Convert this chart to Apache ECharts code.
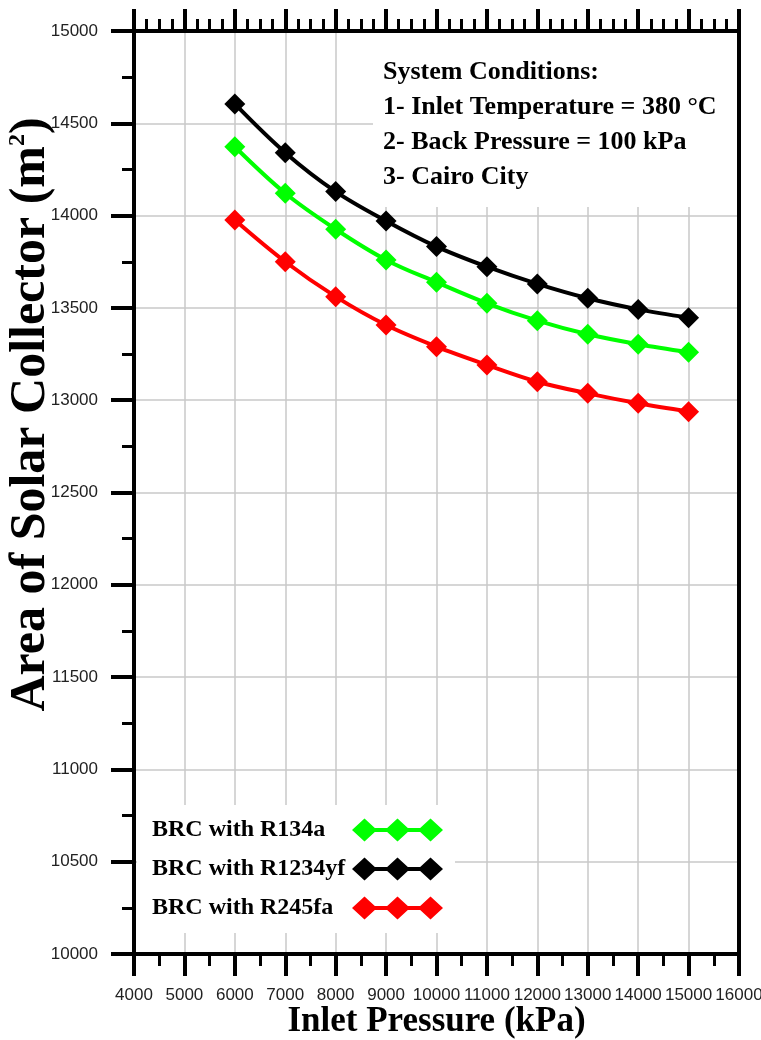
<!DOCTYPE html>
<html><head><meta charset="utf-8">
<script src="https://cdn.jsdelivr.net/npm/echarts@6/dist/echarts.min.js"></script>
<style>html,body{margin:0;padding:0;background:#fff}#c{width:761px;height:1040px}</style>
</head><body><div id="c"></div>
<script>
const pressures = [6000, 7000, 8000, 9000, 10000, 11000, 12000, 13000, 14000, 15000];
const r134a   = [14373, 14121, 13926, 13760, 13639, 13525, 13431, 13357, 13303, 13260];
const r1234yf = [14605, 14341, 14130, 13971, 13832, 13723, 13630, 13552, 13492, 13447];
const r245fa  = [13976, 13750, 13561, 13407, 13290, 13191, 13100, 13037, 12983, 12938];
const seriesNames = ['BRC with R134a', 'BRC with R1234yf', 'BRC with R245fa'];
const seriesValues = [r134a, r1234yf, r245fa];
const seriesColors = ['#00ff00', '#000000', '#ff0000'];
const conditionLines = ['System Conditions:', '1- Inlet Temperature = 380 °C', '2- Back Pressure = 100 kPa', '3- Cairo City'];
const xTitle = 'Inlet Pressure (kPa)';
const yTitle = 'Area of Solar Collector (m{sup|2})';

const serif = '"Liberation Serif", "Times New Roman", serif';
const sans = '"Liberation Sans", Arial, sans-serif';
const legendIcon = 'path://M0 11.5L12.5 0L25 11.5L12.5 23Z M33 11.5L45.5 0L58 11.5L45.5 23Z M66 11.5L78.5 0L91 11.5L78.5 23Z M12 9.5H79V13.5H12Z';
const plain = v => String(v);

const chart = echarts.init(document.getElementById('c'), null, {renderer: 'canvas'});
const axisBase = {
  type: 'value',
  axisLine: {show: true, onZero: false, lineStyle: {color: '#000', width: 4}},
  axisTick: {show: true, length: 22, lineStyle: {color: '#000', width: 4}},
  minorTick: {show: true, splitNumber: 2, length: 12, lineStyle: {color: '#000', width: 3}},
  splitLine: {show: true, lineStyle: {color: '#c8c8c8', width: 1.5}},
  minorSplitLine: {show: false}
};
chart.setOption({
  animation: false,
  backgroundColor: '#fff',
  grid: {left: 134, right: 22, top: 31, bottom: 86, containLabel: false, outerBoundsMode: 'none'},
  xAxis: [
    Object.assign({}, axisBase, {
      position: 'bottom', min: 4000, max: 16000, interval: 1000,
      axisLabel: {margin: 33, fontSize: 17, fontFamily: sans, color: '#222', hideOverlap: false, formatter: plain},
      name: xTitle, nameLocation: 'middle', nameGap: 50, nameMoveOverlap: false,
      nameTextStyle: {fontFamily: serif, fontWeight: 'bold', fontSize: 35, color: '#000'}
    }),
    Object.assign({}, axisBase, {
      position: 'top', min: 4000, max: 16000, interval: 1000,
      minorTick: {show: true, splitNumber: 4, length: 12, lineStyle: {color: '#000', width: 3}},
      axisLabel: {show: false}, splitLine: {show: false}
    })
  ],
  yAxis: [
    Object.assign({}, axisBase, {
      position: 'left', min: 10000, max: 15000, interval: 500,
      axisTick: {show: true, length: 23, lineStyle: {color: '#000', width: 4}},
      axisLabel: {margin: 36, fontSize: 17, fontFamily: sans, color: '#222', formatter: plain},
      name: yTitle, nameLocation: 'middle', nameGap: 78, nameMoveOverlap: false,
      nameTextStyle: {fontFamily: serif, fontWeight: 'bold', fontSize: 50, color: '#000',
        padding: [0, 0, 0, 156],
        rich: {sup: {fontFamily: serif, fontWeight: 'bold', fontSize: 24, color: '#000', verticalAlign: 'top'}}}
    }),
    {
      type: 'value', position: 'right', min: 10000, max: 15000,
      axisLine: {show: true, onZero: false, lineStyle: {color: '#000', width: 4}},
      axisTick: {show: false}, axisLabel: {show: false}, splitLine: {show: false}
    }
  ],
  legend: {
    orient: 'vertical', left: 137, top: 805,
    padding: [13, 12, 13, 15], itemGap: 15,
    itemWidth: 91, itemHeight: 23, align: 'right',
    backgroundColor: '#fff', selectedMode: false,
    data: seriesNames.map(n => ({name: n, icon: legendIcon})),
    itemStyle: {borderWidth: 0},
    formatter: '{t|{name}}',
    textStyle: {
      fontFamily: serif, fontWeight: 'bold', fontSize: 24, color: '#000',
      rich: {t: {width: 195, align: 'left', fontFamily: serif, fontWeight: 'bold', fontSize: 24, lineHeight: 28, color: '#000'}}
    }
  },
  graphic: [
    {type: 'rect', left: 373, top: 33, z: 1, shape: {width: 364, height: 174}, style: {fill: '#fff'}},
    {type: 'text', left: 383, top: 55, z: 5, style: {text: conditionLines.join('\n'), font: 'bold 26px ' + serif, lineHeight: 35, fill: '#000'}}
  ],
  series: seriesNames.map((name, k) => ({
    name: name, type: 'line', xAxisIndex: 0, yAxisIndex: 0,
    data: pressures.map((p, i) => [p, seriesValues[k][i]]),
    smooth: 0.35, symbol: 'diamond', symbolSize: 21, showAllSymbol: true,
    itemStyle: {color: seriesColors[k]},
    lineStyle: {color: seriesColors[k], width: 4},
    z: 3
  }))
});
</script></body></html>
